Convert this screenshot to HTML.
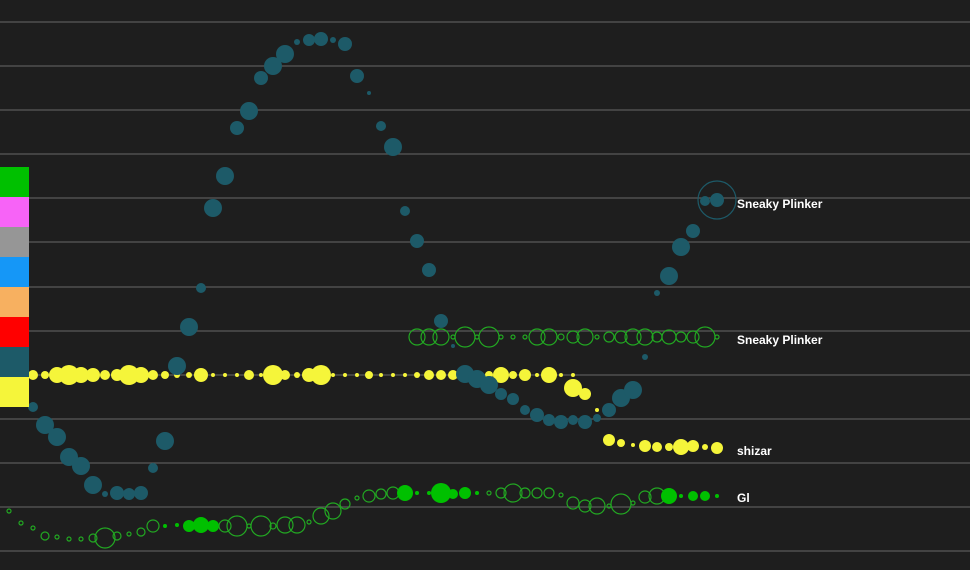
<!DOCTYPE html>
<html><head><meta charset="utf-8"><style>
html,body{margin:0;padding:0;background:#1e1e1e;}
svg{display:block}
text{font-family:"Liberation Sans",sans-serif;font-weight:bold;font-size:12px;fill:#fff}
</style></head><body>
<svg id="s" width="970" height="570" viewBox="0 0 970 570">
<rect width="970" height="570" fill="#1e1e1e"/>
<g id="grid" stroke="#5a5a5a" stroke-width="1.3"></g>
<g id="yel" fill="#f5f53a"></g>
<g id="teal" fill="#1d5a68"></g>
<g id="grn"></g>
<circle cx="717" cy="200" r="19" fill="none" stroke="#1d5a68" stroke-width="1.2"/>
<rect x="0" y="167" width="29" height="30" fill="#00c000"/>
<rect x="0" y="197" width="29" height="30" fill="#f763f7"/>
<rect x="0" y="227" width="29" height="30" fill="#969696"/>
<rect x="0" y="257" width="29" height="30" fill="#1597f7"/>
<rect x="0" y="287" width="29" height="30" fill="#f7b060"/>
<rect x="0" y="317" width="29" height="30" fill="#ff0000"/>
<rect x="0" y="347" width="29" height="30" fill="#1d5a68"/>
<rect x="0" y="377" width="29" height="30" fill="#f5f53a"/>
<text x="737" y="208">Sneaky Plinker</text>
<text x="737" y="344">Sneaky Plinker</text>
<text x="737" y="455">shizar</text>
<text x="737" y="502">Gl</text>
</svg>
<script>
var NS="http://www.w3.org/2000/svg";
function c(g,x,y,r,attrs){var e=document.createElementNS(NS,"circle");e.setAttribute("cx",x);e.setAttribute("cy",y);e.setAttribute("r",r);if(attrs)for(var k in attrs)e.setAttribute(k,attrs[k]);document.getElementById(g).appendChild(e);}
var gy=[22,66,110,154,198,242,287,331,375,419,463,507,551];
gy.forEach(function(y){var l=document.createElementNS(NS,"line");l.setAttribute("x1",0);l.setAttribute("x2",970);l.setAttribute("y1",y);l.setAttribute("y2",y);document.getElementById("grid").appendChild(l);});
var T=[[33,407,5],[45,425,9],[57,437,9],[69,457,9],[81,466,9],[93,485,9],[105,494,3],[117,493,7],[129,494,6],[141,493,7],[153,468,5],[165,441,9],[177,366,9],[189,327,9],[201,288,5],[213,208,9],[225,176,9],[237,128,7],[249,111,9],[261,78,7],[273,66,9],[285,54,9],[297,42,3],[309,40,6],[321,39,7],[333,40,3],[345,44,7],[357,76,7],[369,93,2],[381,126,5],[393,147,9],[405,211,5],[417,241,7],[429,270,7],[441,321,7],[453,346,2],[465,374,9],[477,379,9],[489,385,9],[501,394,6],[513,399,6],[525,410,5],[537,415,7],[549,420,6],[561,422,7],[573,420,5],[585,422,7],[597,418,4],[609,410,7],[621,398,9],[633,390,9],[645,357,3],[657,293,3],[669,276,9],[681,247,9],[693,231,7],[705,201,5],[717,200,7]];
T.forEach(function(p){c("teal",p[0],p[1],p[2]);});
var Yr=[5,4,8,10,8,7,5,6,10,8,5,4,3,3,7,2,2,2,5,2,10,5,3,7,10,2,2,2,4,2,2,2,3,5,5,5,2,3,4,8,4,6,2,8,2,2];
for(var i=0;i<Yr.length;i++)c("yel",33+12*i,375,Yr[i]);
[[573,388,9],[585,394,6],[597,410,2],[609,440,6],[621,443,4],[633,445,2],[645,446,6],[657,447,5],[669,447,4],[681,447,8],[693,446,6],[705,447,3],[717,448,6]].forEach(function(p){c("yel",p[0],p[1],p[2]);});
var hol={fill:"none",stroke:"#22a822","stroke-width":"1.2"};
var fil={fill:"#00c000"};
var G1=[8,8,8,2,10,2,10,2,2,2,8,8,3,6,8,2,5,6,8,8,5,7,5,6,10,2];
for(var i=0;i<G1.length;i++)c("grn",417+12*i,337,G1[i],hol);
var G2=[[9,511,2,0],[21,523,2,0],[33,528,2,0],[45,536,4,0],[57,537,2,0],[69,539,2,0],[81,539,2,0],[93,538,4,0],[105,538,10,0],[117,536,4,0],[129,534,2,0],[141,532,4,0],[153,526,6,0],[165,526,2,1],[177,525,2,1],[189,526,6,1],[201,525,8,1],[213,526,6,1],[225,526,6,0],[237,526,10,0],[249,526,2,0],[261,526,10,0],[273,526,3,0],[285,525,8,0],[297,525,8,0],[309,522,2,0],[321,516,8,0],[333,511,8,0],[345,504,5,0],[357,498,2,0],[369,496,6,0],[381,494,5,0],[393,493,6,0],[405,493,8,1],[417,493,2,1],[429,493,2,1],[441,493,10,1],[453,494,5,1],[465,493,6,1],[477,493,2,1],[489,493,2,0],[501,493,5,0],[513,493,9,0],[525,493,5,0],[537,493,5,0],[549,493,5,0],[561,495,2,0],[573,503,6,0],[585,506,6,0],[597,506,8,0],[609,506,2,0],[621,504,10,0],[633,503,2,0],[645,497,6,0],[657,496,8,0],[669,496,8,1],[681,496,2,1],[693,496,5,1],[705,496,5,1],[717,496,2,1]];
G2.forEach(function(p){c("grn",p[0],p[1],p[2],p[3]?fil:hol);});
</script>
</body></html>
